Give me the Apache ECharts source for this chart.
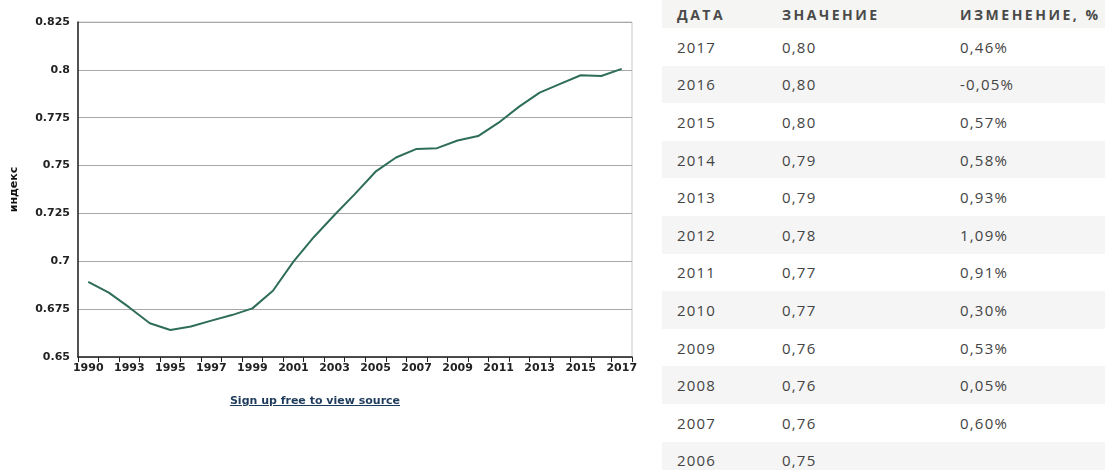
<!DOCTYPE html>
<html>
<head>
<meta charset="utf-8" />
<title>индекс</title>
<script src="https://cdn.jsdelivr.net/npm/echarts@6/dist/echarts.min.js"></script>
<style>
  body { margin: 0; background: #fff; }
  #main { position: absolute; left: 0; top: 0; width: 660px; height: 470px; }
  #link { position: absolute; left: 0; width: 630px; top: 394px; text-align: center;
          font: bold 11px "DejaVu Sans", Verdana, sans-serif; color: #1f3b5c; text-decoration: underline; }
  #tbl { position: absolute; left: 662px; top: 0; width: 443px; font-family: "Open Sans", sans-serif; color: #444; }
  .row { position: relative; height: 37.6px; }
  .row span { position: absolute; top: 50%; transform: translateY(-50%); font-size: 15px; letter-spacing: 1.2px; white-space: nowrap; }
  .hdr { height: 28px; background: #f5f5f3; }
  .hdr span { font-size: 14px; font-weight: bold; letter-spacing: 2.5px; color: #4a4a4a; }
  .gray { background: #f5f5f5; }
  .c1 { left: 15px; } .c2 { left: 120px; } .c3 { left: 298px; }
</style>
</head>
<body>
<div id="main"></div>
<div id="link">Sign up free to view source</div>
<div id="tbl"></div>
<script type="text/javascript">
  // chart data (1991 is absent in the source series)
  const years = ['1990', '1992', '1993', '1994', '1995', '1996', '1997', '1998', '1999', '2000',
                 '2001', '2002', '2003', '2004', '2005', '2006', '2007', '2008', '2009', '2010',
                 '2011', '2012', '2013', '2014', '2015', '2016', '2017'];
  const values = [0.6893, 0.6836, 0.6759, 0.6676, 0.6641, 0.6659, 0.6690, 0.6719, 0.6754, 0.6846,
                  0.6998, 0.7127, 0.7242, 0.7352, 0.7468, 0.7542, 0.7587, 0.7591, 0.7631, 0.7654,
                  0.7724, 0.7808, 0.7881, 0.7927, 0.7972, 0.7968, 0.8005];

  // table data
  const tableHead = ['ДАТА', 'ЗНАЧЕНИЕ', 'ИЗМЕНЕНИЕ, %'];
  const tableYears = ['2017', '2016', '2015', '2014', '2013', '2012', '2011', '2010', '2009', '2008', '2007', '2006'];
  const tableValues = ['0,80', '0,80', '0,80', '0,79', '0,79', '0,78', '0,77', '0,77', '0,76', '0,76', '0,76', '0,75'];
  const tableChanges = ['0,46%', '-0,05%', '0,57%', '0,58%', '0,93%', '1,09%', '0,91%', '0,30%', '0,53%', '0,05%', '0,60%', ''];

  const tbl = document.getElementById('tbl');
  let html = '<div class="row hdr">' + tableHead.map((t, i) => `<span class="c${i + 1}">${t}</span>`).join('') + '</div>';
  tableYears.forEach((y, i) => {
    html += `<div class="row${i % 2 ? ' gray' : ''}"><span class="c1">${y}</span><span class="c2">${tableValues[i]}</span><span class="c3">${tableChanges[i]}</span></div>`;
  });
  tbl.innerHTML = html;

  const myChart = echarts.init(document.getElementById('main'));
  const labelFont = { fontFamily: 'DejaVu Sans', fontWeight: 'bold', fontSize: 11, color: '#222' };

  const option = {
    animation: false,
    grid: { left: 78, top: 22, width: 554, height: 335, show: true, borderColor: '#c8c8c8', borderWidth: 1 },
    xAxis: {
      type: 'category',
      data: years,
      boundaryGap: true,
      axisLine: { lineStyle: { color: '#222', width: 1.5 } },
      axisTick: { show: true, interval: 0, length: 5, lineStyle: { color: '#222' } },
      axisLabel: Object.assign({ interval: 1, margin: 6 }, labelFont)
    },
    yAxis: {
      type: 'value',
      min: 0.65,
      max: 0.825,
      interval: 0.025,
      name: 'индекс',
      nameLocation: 'middle',
      nameGap: 58,
      nameTextStyle: { fontFamily: 'DejaVu Sans', fontWeight: 'bold', fontSize: 11, color: '#111' },
      axisLine: { show: true, lineStyle: { color: '#222', width: 1.5 } },
      axisTick: { show: false },
      splitLine: { lineStyle: { color: '#a8a8a8', width: 1 } },
      axisLabel: Object.assign({ margin: 8, formatter: v => String(+v.toFixed(3)) }, labelFont)
    },
    series: [{
      type: 'line',
      data: values,
      symbol: 'none',
      lineStyle: { color: '#2f6e56', width: 2 }
    }]
  };
  myChart.setOption(option);
</script>
</body>
</html>
